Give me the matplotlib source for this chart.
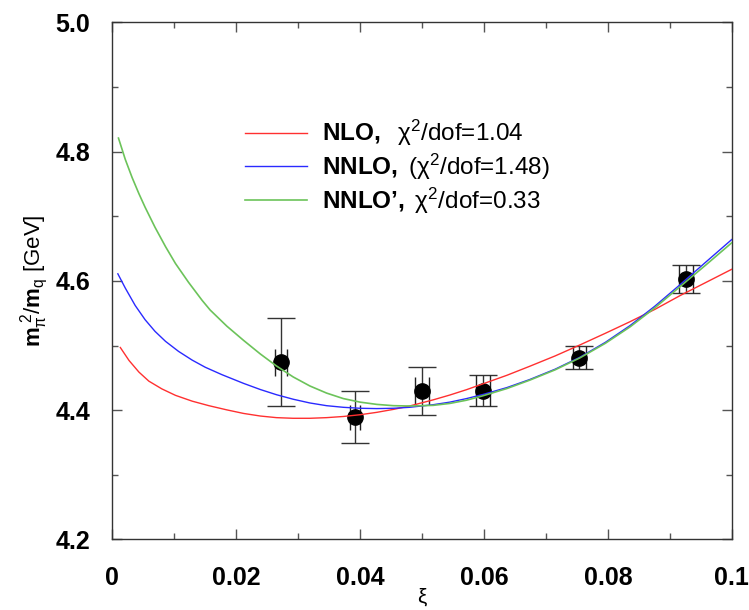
import matplotlib
matplotlib.use("Agg")
import matplotlib.pyplot as plt
from matplotlib.ticker import MultipleLocator

plt.rcParams['font.family'] = ['Liberation Sans', 'DejaVu Sans']
plt.rcParams['mathtext.fontset'] = 'custom'
plt.rcParams['mathtext.rm'] = 'Liberation Sans'
plt.rcParams['mathtext.it'] = 'Liberation Sans:italic'
plt.rcParams['mathtext.bf'] = 'Liberation Sans:bold'

# ---- data ----
xi_data = [0.0272, 0.0392, 0.0500, 0.0599, 0.0754, 0.0926]
m_data = [4.474, 4.389, 4.430, 4.430, 4.481, 4.603]
err_outer = [0.068, 0.040, 0.037, 0.024, 0.018, 0.021]
err_inner = [0.021, 0.019, 0.022, 0.024, 0.018, 0.021]
xi_err = [0.0010, 0.0008, 0.0011, 0.0011, 0.0010, 0.0011]

nlo_xi = [0.0013, 0.0027, 0.0043, 0.0059, 0.0080, 0.0102, 0.0129, 0.0156, 0.0185,
          0.0212, 0.0239, 0.0265, 0.0292, 0.0319, 0.0346, 0.0373, 0.0400, 0.0427,
          0.0454, 0.0480, 0.0518, 0.0545, 0.0572, 0.0599, 0.0637, 0.0674, 0.0715,
          0.0755, 0.0796, 0.0836, 0.0876, 0.0917, 0.0958, 0.1000]
nlo_m = [4.497, 4.477, 4.459, 4.445, 4.433, 4.423, 4.414, 4.407, 4.4005,
         4.3950, 4.3910, 4.3885, 4.3875, 4.3875, 4.3885, 4.3903, 4.3930, 4.3967,
         4.4013, 4.4065, 4.4160, 4.4235, 4.4318, 4.4410, 4.4540, 4.4680, 4.4840,
         4.5010, 4.5190, 4.5370, 4.5560, 4.5775, 4.5975, 4.6180]

nnlo_xi = [0.0009, 0.0021, 0.0037, 0.0053, 0.0069, 0.0086, 0.0107, 0.0129, 0.0150,
           0.0177, 0.0212, 0.0239, 0.0265, 0.0292, 0.0319, 0.0346, 0.0373, 0.0400,
           0.0427, 0.0454, 0.0480, 0.0518, 0.0545, 0.0572, 0.0599, 0.0637, 0.0674,
           0.0715, 0.0755, 0.0796, 0.0836, 0.0876, 0.0917, 0.0958, 0.1000]
nnlo_m = [4.611, 4.589, 4.562, 4.540, 4.522, 4.5065, 4.491, 4.4775, 4.4665,
          4.4550, 4.4415, 4.4320, 4.4240, 4.4170, 4.4112, 4.4070, 4.4045, 4.4030,
          4.4025, 4.4030, 4.4045, 4.4085, 4.4125, 4.4180, 4.4245, 4.4350, 4.4475,
          4.4635, 4.4820, 4.5050, 4.5310, 4.5610, 4.5945, 4.6290, 4.6640]

nnlop_xi = [0.0010, 0.0021, 0.0032, 0.0043, 0.0053, 0.0069, 0.0086, 0.0102, 0.0123,
            0.0145, 0.0158, 0.0185, 0.0212, 0.0239, 0.0265, 0.0292, 0.0319, 0.0346,
            0.0373, 0.0400, 0.0427, 0.0454, 0.0480, 0.0518, 0.0545, 0.0572, 0.0599,
            0.0637, 0.0674, 0.0715, 0.0755, 0.0796, 0.0836, 0.0876, 0.0917, 0.0958,
            0.1000]
nnlop_m = [4.821, 4.788, 4.760, 4.735, 4.714, 4.683, 4.653, 4.627, 4.598,
           4.570, 4.555, 4.530, 4.508, 4.487, 4.4685, 4.4515, 4.4375, 4.4265,
           4.418, 4.4125, 4.409, 4.407, 4.4065, 4.4075, 4.4105, 4.4155, 4.4225,
           4.4335, 4.4465, 4.4625, 4.481, 4.5035, 4.529, 4.5585, 4.5915, 4.6245,
           4.659]

labels = [r'$\mathbf{NLO,}$  χ$^2$/dof=1.04',
          r'$\mathbf{NNLO,}$ (χ$^2$/dof=1.48)',
          r'$\mathbf{NNLO’,}$ χ$^2$/dof=0.33']

fig = plt.figure(figsize=(7.49, 6.10), dpi=100)
ax = fig.add_axes([0.1499, 0.1156, 0.8270, 0.8477])

l1, = ax.plot(nlo_xi, nlo_m, color='#ff3030', lw=1.0, zorder=4)
l2, = ax.plot(nnlo_xi, nnlo_m, color='#2a2aff', lw=1.0, zorder=4)
l3, = ax.plot(nnlop_xi, nnlop_m, color='#6cc35a', lw=1.2, zorder=4)

ax.errorbar(xi_data, m_data, yerr=err_outer, fmt='o', color='black', ecolor='#333333',
            elinewidth=1.0, capsize=10, capthick=1.0, markersize=11, zorder=3)
for x, y, dx, e in zip(xi_data, m_data, xi_err, err_inner):
    ax.vlines([x - dx, x + dx], y - e, y + e, color='#222222', lw=1.0, zorder=3)

ax.set_xlim(0, 0.1)
ax.set_ylim(4.2, 5.0)
ax.set_xticks([0, 0.02, 0.04, 0.06, 0.08, 0.1])
ax.set_xticklabels(['0', '0.02', '0.04', '0.06', '0.08', '0.1'])
ax.xaxis.set_minor_locator(MultipleLocator(0.01))
ax.set_yticks([4.2, 4.4, 4.6, 4.8, 5.0])
ax.set_yticklabels(['4.2', '4.4', '4.6', '4.8', '5.0'])
ax.yaxis.set_minor_locator(MultipleLocator(0.1))
ax.tick_params(which='both', direction='in', top=True, right=True, color='#555555')
ax.tick_params(which='major', length=7, width=1.0, labelsize=18)
ax.tick_params(axis='x', which='major', pad=19)
ax.tick_params(axis='y', which='major', pad=16)
ax.tick_params(which='minor', length=4, width=1.0)
for lab in ax.get_xticklabels() + ax.get_yticklabels():
    lab.set_fontweight('bold')
for s in ax.spines.values():
    s.set_linewidth(1.0)
    s.set_color('#333333')

ax.set_xlabel('ξ', fontsize=15)
ax.xaxis.set_label_coords(0.5, -0.094)
ax.set_ylabel(r'$\mathbf{m}_{\mathrm{π}}^{\ 2}/\mathbf{m}_{\mathrm{q}}$ [GeV]', fontsize=16, labelpad=4)

ax.legend([l1, l2, l3], labels, loc='upper left', bbox_to_anchor=(0.2142, 0.815),
          frameon=False, fontsize=17.5, handlelength=2.55, handletextpad=0.62,
          labelspacing=0.15, borderpad=0, borderaxespad=0)

fig.savefig('out.png', dpi=100)
